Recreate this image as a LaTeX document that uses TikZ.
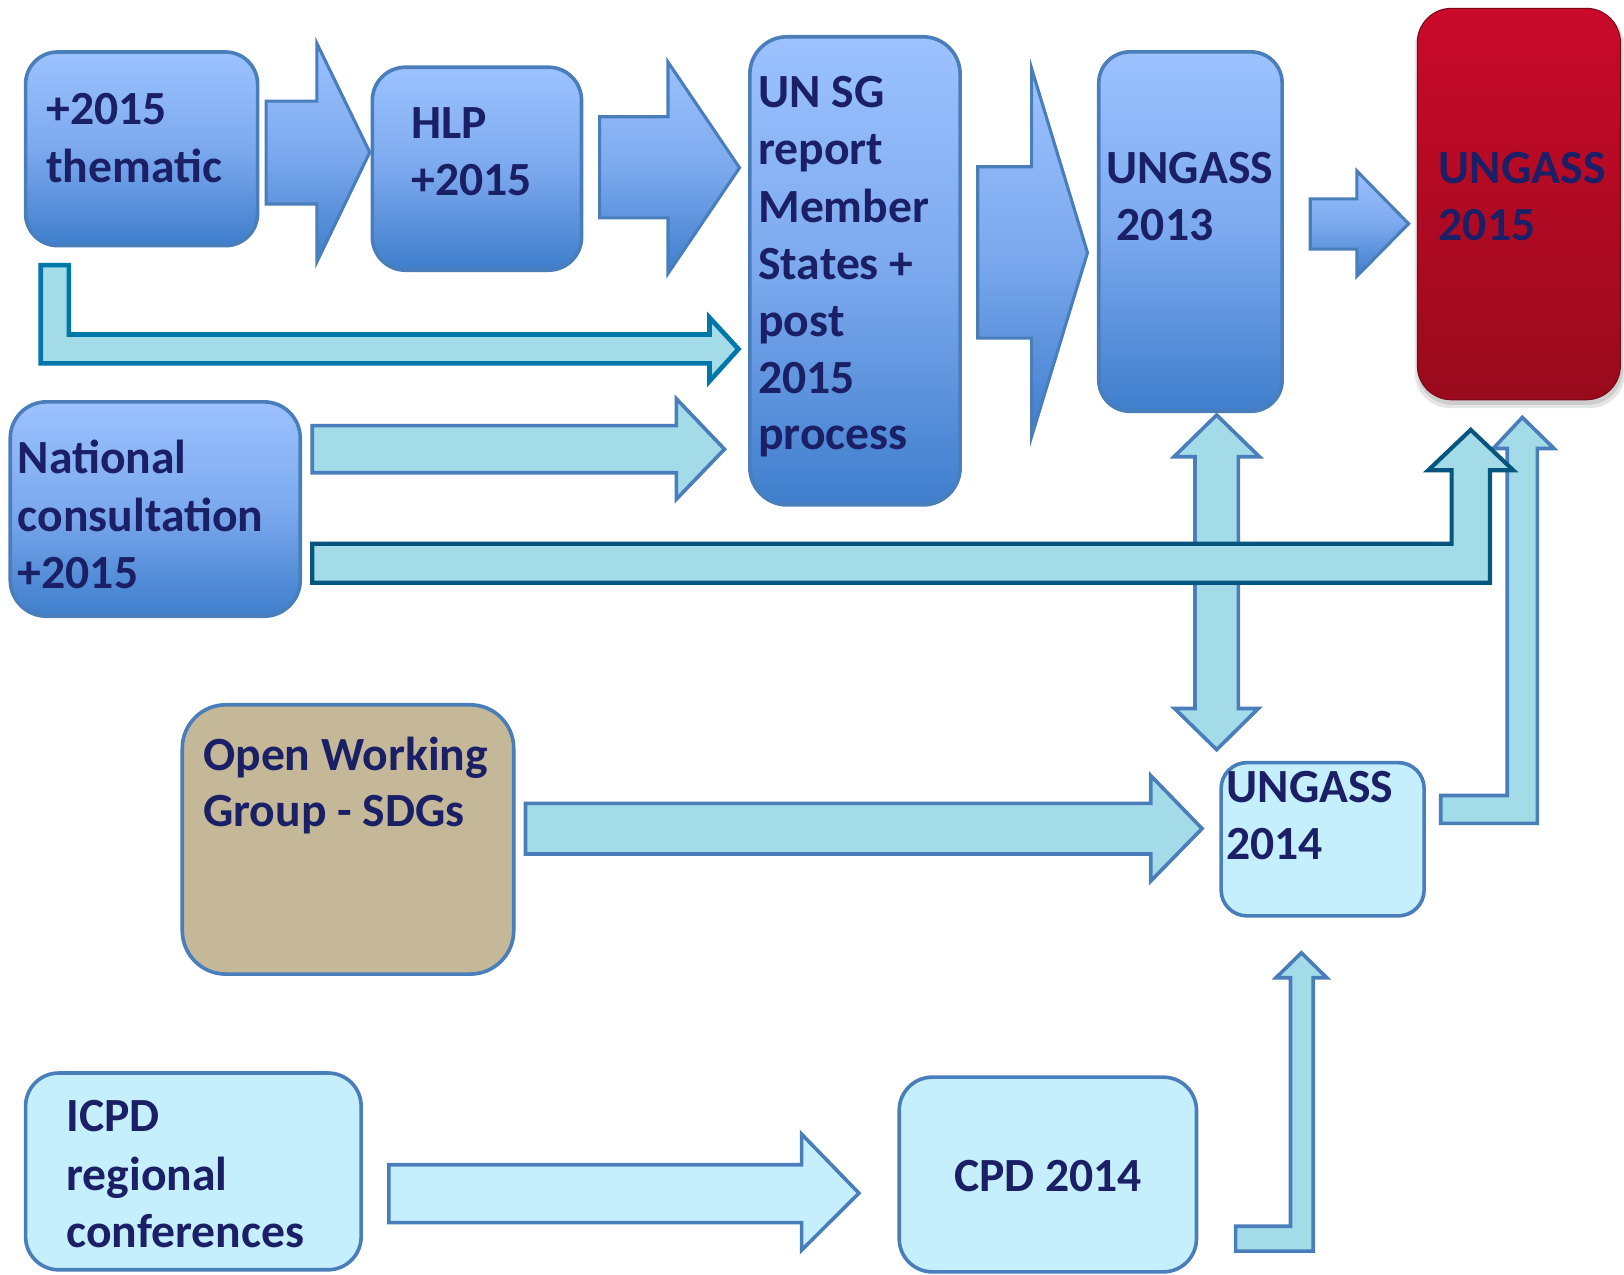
\documentclass[tikz,border=0pt]{standalone}
\usepackage{fontspec}
\setmainfont{Carlito}
\definecolor{navy}{HTML}{1B1F66}
\definecolor{btop}{HTML}{9CC2FF}
\definecolor{bmid}{HTML}{7CA9EE}
\definecolor{bbot}{HTML}{3F7ECC}
\definecolor{bord}{HTML}{4A7EBB}
\definecolor{cyanA}{HTML}{A3DBE8}
\definecolor{cyanB}{HTML}{C5EFFD}
\definecolor{tan}{HTML}{C4B898}
\definecolor{rtop}{HTML}{CA0A2A}
\definecolor{rbot}{HTML}{990A1D}
\definecolor{tealA}{HTML}{0077AA}
\definecolor{tealB}{HTML}{05557F}
\tikzset{
  box/.style={rectangle, draw=bord, line width=3.5pt, inner sep=0pt},
  bluebox/.style={box, top color=btop, bottom color=bbot, middle color=bmid},
  lbl/.style={anchor=base west, inner sep=0pt, text=navy, font=\fontsize{46}{55}\selectfont\bfseries},
  bluearrow/.style={draw=bord, line width=3pt, line join=miter, top color=btop, bottom color=bbot, middle color=bmid},
  cyanarrow/.style={draw=bord, line width=3.5pt, line join=miter, fill=cyanA},
}
\begin{document}
\begin{tikzpicture}[x=1pt,y=-1pt]
\useasboundingbox (0,0) rectangle (1568,1231);

% ---- boxes ----
\node[bluebox, rounded corners=31pt, minimum width=224pt, minimum height=187pt] (A) at (136.7,143.7) {};
\node[bluebox, rounded corners=32pt, minimum width=202pt, minimum height=196pt] (B) at (460.5,162.9) {};
\node[bluebox, rounded corners=36pt, minimum width=203pt, minimum height=452pt] (C) at (825.5,261.5) {};
\node[bluebox, rounded corners=30pt, minimum width=177pt, minimum height=347pt] (D) at (1149.4,223.6) {};
% red box with shadow
\fill[black, opacity=0.10, rounded corners=34pt] (1366,12) rectangle (1569,394);
\fill[black, opacity=0.10, rounded corners=34pt] (1368,12) rectangle (1567,391);
\node[rectangle, draw=rbot!80!black, line width=1pt, rounded corners=33pt, top color=rtop, bottom color=rbot, minimum width=196pt, minimum height=378pt] (E) at (1466.5,197) {};
\node[bluebox, rounded corners=35pt, minimum width=280pt, minimum height=207pt] (F) at (149.9,491.5) {};
\node[box, fill=cyanB, rounded corners=25pt, minimum width=196pt, minimum height=148pt] (G) at (1277,810.3) {};
\node[box, fill=tan, rounded corners=42pt, minimum width=320pt, minimum height=260pt] (H) at (336,810.5) {};
\node[box, fill=cyanB, rounded corners=32pt, minimum width=324pt, minimum height=190pt] (I) at (186.7,1131) {};
\node[box, fill=cyanB, rounded corners=32pt, minimum width=287pt, minimum height=188pt] (J) at (1011.7,1134) {};

% ---- block arrows ----
\path[bluearrow] (257,97.7) -- (306,97.7) -- (306,42) -- (357,147) -- (306,252.7) -- (306,197) -- (257,197) -- cycle;
\path[bluearrow] (579,112.7) -- (645,112.7) -- (645,60) -- (714,162) -- (645,264) -- (645,210.4) -- (579,210.4) -- cycle;
\path[bluearrow] (944,161) -- (996,161) -- (996,66) -- (1050,244) -- (996,421.6) -- (996,326.5) -- (944,326.5) -- cycle;
\path[bluearrow] (1265,192) -- (1310,192) -- (1310,165) -- (1360,216) -- (1310,266.7) -- (1310,240.6) -- (1265,240.6) -- cycle;

% A -> C (L-shaped)
\path[cyanarrow, draw=tealA, line width=4.5pt] (39.4,256) -- (66.5,256) -- (66.5,323) -- (685,323) -- (685,306.6) -- (713,337) -- (685,368) -- (685,350.8) -- (39.4,350.8) -- cycle;
% F -> C
\path[cyanarrow] (301.5,411) -- (653,411) -- (653,385) -- (699.5,433.7) -- (653,482) -- (653,456.5) -- (301.5,456.5) -- cycle;
% D <-> G
\path[cyanarrow] (1174.7,400.7) -- (1216,441) -- (1195.6,441) -- (1195.6,684) -- (1215,684) -- (1174.7,723.8) -- (1134,684) -- (1153.8,684) -- (1153.8,441) -- (1133.5,441) -- cycle;
% G -> E
\path[cyanarrow] (1391,768) -- (1455.3,768) -- (1455.3,433) -- (1441.8,433) -- (1469.8,403) -- (1500.4,433) -- (1484.3,433) -- (1484.3,795) -- (1391,795) -- cycle;
% F -> E
\path[cyanarrow, draw=tealB, line width=4pt] (301.5,525) -- (1401.6,525) -- (1401.6,454) -- (1379,454) -- (1420,415) -- (1461,454) -- (1438.6,454) -- (1438.6,562.6) -- (301.5,562.6) -- cycle;
% H -> G
\path[cyanarrow] (507.4,775.7) -- (1111,775.7) -- (1111,748.8) -- (1160.6,800) -- (1111,850.7) -- (1111,824.6) -- (507.4,824.6) -- cycle;
% I -> J
\path[cyanarrow, fill=cyanB] (375.4,1124.6) -- (774,1124.6) -- (774,1095) -- (829.3,1152) -- (774,1207) -- (774,1180.4) -- (375.4,1180.4) -- cycle;
% J -> G
\path[cyanarrow] (1193,1184) -- (1246,1184) -- (1246,944) -- (1232,944) -- (1256.5,920) -- (1281,944) -- (1268,944) -- (1268,1208) -- (1193,1208) -- cycle;

% ---- labels ----
\node[lbl] (A1) at (44.5,120) {+2015};
\node[lbl] (A2) at (44.5,176) {thematic};
\node[lbl] (B1) at (397,134) {HLP};
\node[lbl] (B2) at (397,189) {+2015};
\node[lbl] (C1) at (732,104) {UN SG};
\node[lbl] (C2) at (732,159) {report};
\node[lbl] (C3) at (732,215) {Member};
\node[lbl] (C4) at (732,270) {States +};
\node[lbl] (C5) at (732,325) {post};
\node[lbl] (C6) at (732,380) {2015};
\node[lbl] (C7) at (732,434) {process};
\node[lbl] (D1) at (1068,177) {UNGASS};
\node[lbl] (D2) at (1078,232.5) {2013};
\node[lbl] (E1) at (1389,177) {UNGASS};
\node[lbl] (E2) at (1389,232.5) {2015};
\node[lbl] (F1) at (17,457) {National};
\node[lbl] (F2) at (17,513) {consultation};
\node[lbl] (F3) at (17,568) {+2015};
\node[lbl] (G1) at (1184,775) {UNGASS};
\node[lbl] (G2) at (1184,830) {2014};
\node[lbl] (H1) at (196,743.6) {Open Working};
\node[lbl] (H2) at (196,798) {Group - SDGs};
\node[lbl] (I1) at (64,1092) {ICPD};
\node[lbl] (I2) at (64,1149) {regional};
\node[lbl] (I3) at (64,1204.6) {conferences};
\node[lbl, anchor=base] (J1) at (1012,1150) {CPD 2014};
\end{tikzpicture}
\end{document}
